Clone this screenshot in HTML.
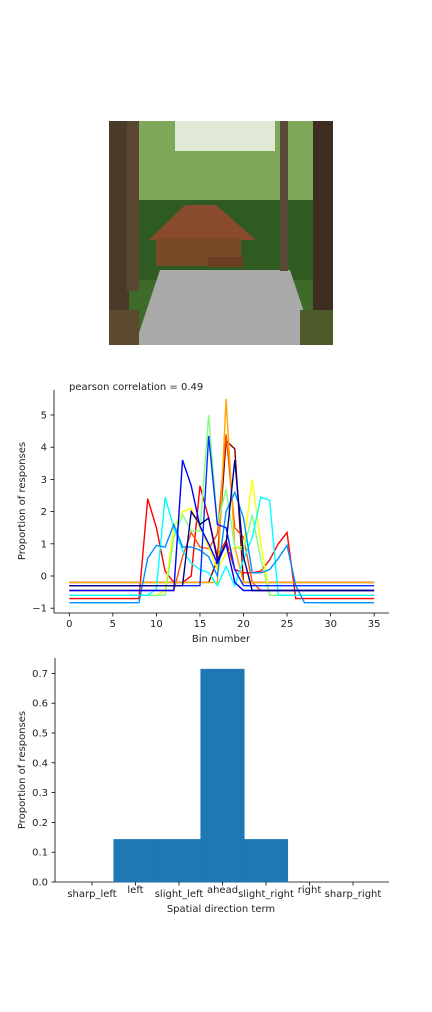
<!DOCTYPE html>
<html><head><meta charset="utf-8"><style>
body{margin:0;background:#fff;font-family:"DejaVu Sans",sans-serif;}
svg text{font-family:"DejaVu Sans",sans-serif;fill:#222;}
</style></head><body>
<svg width="432" height="1008" viewBox="0 0 432 1008" xmlns="http://www.w3.org/2000/svg">
<rect width="432" height="1008" fill="#fff"/>
<!-- photo -->
<g>
 <rect x="109" y="121" width="224" height="224" fill="#3f6b2a"/>
 <rect x="109" y="121" width="224" height="90" fill="#7fa85a"/>
 <rect x="175" y="121" width="100" height="30" fill="#dfe9d6"/>
 <rect x="109" y="200" width="224" height="80" fill="#2f5a22"/>
 <polygon points="135,345 160,270 290,270 315,345" fill="#a9a9a9"/>
 <polygon points="149,240 185,205 216,205 256,240" fill="#8a4a2e"/>
 <rect x="156" y="238" width="85" height="28" fill="#7a4a28"/>
 <rect x="208" y="257" width="35" height="10" fill="#6b3d22"/>
 <rect x="109" y="121" width="20" height="224" fill="#4a3a2a"/>
 <rect x="127" y="121" width="12" height="170" fill="#5a4632"/>
 <rect x="313" y="121" width="20" height="224" fill="#3e2e22"/>
 <rect x="109" y="310" width="30" height="35" fill="#5c4a30"/>
 <rect x="300" y="310" width="33" height="35" fill="#4e5a2a"/>
 <rect x="280" y="121" width="8" height="150" fill="#5a4a38"/>
</g>
<!-- line chart -->
<g id="lc">
 <text x="69" y="390" font-size="10">pearson correlation = 0.49</text>
 <line x1="54" y1="390" x2="54" y2="613" stroke="#000" stroke-width="0.8"/>
 <line x1="54" y1="613" x2="389" y2="613" stroke="#000" stroke-width="0.8"/>
 <text x="25" y="501" font-size="10" text-anchor="middle" transform="rotate(-90 25 501)">Proportion of responses</text>
 <text x="221" y="642" font-size="10" text-anchor="middle">Bin number</text>
</g>
<!-- bar chart -->
<g id="bc">
 <line x1="55" y1="658" x2="55" y2="882" stroke="#000" stroke-width="0.8"/>
 <line x1="55" y1="882" x2="389" y2="882" stroke="#000" stroke-width="0.8"/>
 <text x="25" y="770" font-size="10" text-anchor="middle" transform="rotate(-90 25 770)">Proportion of responses</text>
 <text x="221" y="912" font-size="10" text-anchor="middle">Spatial direction term</text>
</g>
</svg>
<script>
const NS="http://www.w3.org/2000/svg";
const binTicks=[0,5,10,15,20,25,30,35];
const yTicks=[-1,0,1,2,3,4,5];
const seriesColors=["#800000","#ff0000","#ff5000","#ffa500","#ffff00","#80ff80","#00ffff","#0090ff","#0000ff","#0030ff","#000090"];
const s0=[-.2,-.2,-.2,-.2,-.2,-.2,-.2,-.2,-.2,-.2,-.2,-.2,-.2,-.2,-.2,-.2,-.2,.5,4.2,3.95,-.2,-.2,-.2,-.2,-.2,-.2,-.2,-.2,-.2,-.2,-.2,-.2,-.2,-.2,-.2,-.2];
const s1=[-.7,-.7,-.7,-.7,-.7,-.7,-.7,-.7,-.7,2.4,1.5,.15,-.2,-.2,0,2.8,1.8,.6,1.1,.2,.1,.1,.15,.5,1,1.35,-.7,-.7,-.7,-.7,-.7,-.7,-.7,-.7,-.7,-.7];
const s2=[-.45,-.45,-.45,-.45,-.45,-.45,-.45,-.45,-.45,-.45,-.45,-.45,-.45,.6,1.35,.9,.85,1.3,4.4,1.5,1.2,-.2,-.45,-.45,-.45,-.45,-.45,-.45,-.45,-.45,-.45,-.45,-.45,-.45,-.45,-.45];
const s3=[-.2,-.2,-.2,-.2,-.2,-.2,-.2,-.2,-.2,-.2,-.2,-.2,-.2,-.2,-.2,-.2,-.2,-.2,5.5,.9,-.2,-.2,-.2,-.2,-.2,-.2,-.2,-.2,-.2,-.2,-.2,-.2,-.2,-.2,-.2,-.2];
const s4=[-.6,-.6,-.6,-.6,-.6,-.6,-.6,-.6,-.6,-.6,-.6,-.45,1.5,2,2.1,1.5,.9,.2,.7,.9,.9,3,1,-.6,-.6,-.6,-.6,-.6,-.6,-.6,-.6,-.6,-.6,-.6,-.6,-.6];
const s5=[-.6,-.6,-.6,-.6,-.6,-.6,-.6,-.6,-.6,-.6,-.6,-.6,1.2,1.9,1.4,1.4,5,1.6,2.7,.9,.8,1.9,.5,-.6,-.6,-.6,-.6,-.6,-.6,-.6,-.6,-.6,-.6,-.6,-.6,-.6];
const s6=[-.6,-.6,-.6,-.6,-.6,-.6,-.6,-.6,-.6,-.6,-.4,2.45,1.5,.8,.4,.2,.1,-.3,.3,-.3,.5,1.2,2.45,2.35,-.6,-.6,-.6,-.6,-.6,-.6,-.6,-.6,-.6,-.6,-.6,-.6];
const s7=[-.83,-.83,-.83,-.83,-.83,-.83,-.83,-.83,-.83,.55,.95,.9,1.6,.9,.9,.8,.6,0,2,2.6,1.8,.1,.1,.2,.55,.95,-.3,-.83,-.83,-.83,-.83,-.83,-.83,-.83,-.83,-.83];
const s8=[-.45,-.45,-.45,-.45,-.45,-.45,-.45,-.45,-.45,-.45,-.45,-.45,-.45,3.6,2.8,1.55,1,.4,1,-.2,-.45,-.45,-.45,-.45,-.45,-.45,-.45,-.45,-.45,-.45,-.45,-.45,-.45,-.45,-.45,-.45];
const s9=[-.3,-.3,-.3,-.3,-.3,-.3,-.3,-.3,-.3,-.3,-.3,-.3,-.3,-.3,-.3,-.3,4.35,1.6,1.5,.2,-.3,-.3,-.3,-.3,-.3,-.3,-.3,-.3,-.3,-.3,-.3,-.3,-.3,-.3,-.3,-.3];
const s10=[-.3,-.3,-.3,-.3,-.3,-.3,-.3,-.3,-.3,-.3,-.3,-.3,-.3,-.3,2,1.6,1.8,.5,1,3.6,.6,-.45,-.45,-.45,-.45,-.45,-.45,-.45,-.45,-.45,-.45,-.45,-.45,-.45,-.45,-.45];
const allSeries=[s0,s1,s2,s3,s4,s5,s6,s7,s8,s9,s10];
const categories=["sharp_left","left","slight_left","ahead","slight_right","right","sharp_right"];
const barValues=[0,0.1429,0.1429,0.7143,0.1429,0,0];
const barTicks=[0,0.1,0.2,0.3,0.4,0.5,0.6,0.7];

const lx=v=>69.3+v*8.71, ly=v=>576-v*32.2;
const lc=document.getElementById('lc');
function mk(tag,attrs,parent,txt){const e=document.createElementNS(NS,tag);for(const k in attrs)e.setAttribute(k,attrs[k]);if(txt!==undefined)e.textContent=txt;parent.appendChild(e);return e;}
binTicks.forEach(t=>{
 const l=mk('line',{x1:lx(t),x2:lx(t),y1:613,y2:616.5,stroke:'#000','stroke-width':0.8},lc);
 
 
 const tx=mk('text',{x:lx(t),y:627,'font-size':10,'text-anchor':'middle'},lc,t);
 
 
});
yTicks.forEach(t=>{
 const l=mk('line',{x1:50.5,x2:54,y1:ly(t),y2:ly(t),stroke:'#000','stroke-width':0.8},lc);
 
 
 const tx=mk('text',{x:47,y:ly(t)+3.5,'font-size':10,'text-anchor':'end'},lc,t===-1?'\u22121':t);
 
 
});
allSeries.forEach((s,i)=>{
 const p=mk('polyline',{points:s.map((v,j)=>lx(j)+','+ly(v)).join(' '),fill:'none',stroke:seriesColors[i],'stroke-width':1.4},lc);
 
 
});
const bc=document.getElementById('bc');
const bx=i=>92+i*43.5, by=v=>882-v*298;
barValues.forEach((v,i)=>{
 const r=mk('rect',{x:bx(i)-21.75,y:by(v),width:43.5,height:882-by(v),fill:'#1f77b4',stroke:v>0?'#1f77b4':'none','stroke-width':0.6},bc);
 
 
});
categories.forEach((c,i)=>{
 const l=mk('line',{x1:bx(i),x2:bx(i),y1:882,y2:885.5,stroke:'#000','stroke-width':0.8},bc);
 
 
 const tx=mk('text',{x:bx(i),y:(i%2?893:897),'font-size':10,'text-anchor':'middle'},bc,c);
 
 
});
barTicks.forEach(t=>{
 const l=mk('line',{x1:51.5,x2:55,y1:by(t),y2:by(t),stroke:'#000','stroke-width':0.8},bc);
 
 
 const tx=mk('text',{x:48,y:by(t)+3.5,'font-size':10,'text-anchor':'end'},bc,t.toFixed(1));
 
 
});
</script>
</body></html>
